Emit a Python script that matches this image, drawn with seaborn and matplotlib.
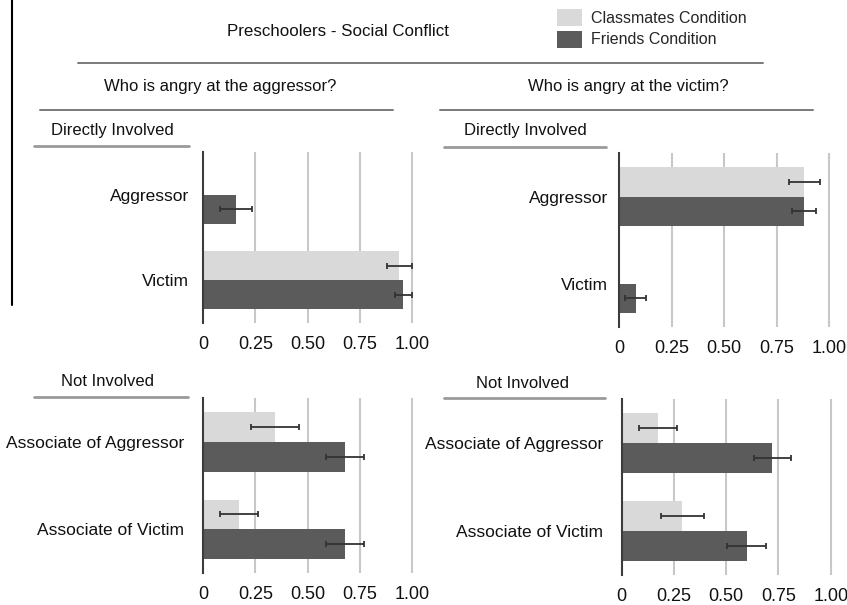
import matplotlib
matplotlib.use("Agg")
import matplotlib.pyplot as plt
from matplotlib.lines import Line2D
from matplotlib.patches import Patch
import numpy as np
import pandas as pd
import seaborn as sns

sns.set_style("white")
plt.rcParams["font.family"] = ["Liberation Sans", "DejaVu Sans"]

# ---- data -------------------------------------------------------------
conditions = ["Classmates Condition", "Friends Condition"]
colors = ["#d9d9d9", "#5b5b5b"]

direct_roles = ["Aggressor", "Victim"]
other_roles = ["Associate of Aggressor", "Associate of Victim"]

# proportion of children judged angry, and standard error bars
angry_at_aggressor_direct = {"Classmates Condition": [0.0, 0.94],
                             "Friends Condition": [0.158, 0.958]}
angry_at_aggressor_direct_err = {"Classmates Condition": [np.nan, 0.058],
                                 "Friends Condition": [0.076, 0.040]}

angry_at_victim_direct = {"Classmates Condition": [0.881, 0.0],
                          "Friends Condition": [0.881, 0.079]}
angry_at_victim_direct_err = {"Classmates Condition": [0.075, np.nan],
                              "Friends Condition": [0.058, 0.050]}

angry_at_aggressor_other = {"Classmates Condition": [0.346, 0.172],
                            "Friends Condition": [0.679, 0.679]}
angry_at_aggressor_other_err = {"Classmates Condition": [0.115, 0.092],
                                "Friends Condition": [0.090, 0.090]}

angry_at_victim_other = {"Classmates Condition": [0.174, 0.290],
                         "Friends Condition": [0.721, 0.598]}
angry_at_victim_other_err = {"Classmates Condition": [0.089, 0.104],
                             "Friends Condition": [0.089, 0.093]}

tick_values = [0, 0.25, 0.50, 0.75, 1.00]
tick_labels = ["0", "0.25", "0.50", "0.75", "1.00"]

W, H = 847, 605
fig = plt.figure(figsize=(W / 100, H / 100), dpi=100)


def frame(df_vals, df_err, roles):
    rows = []
    for cond in conditions:
        for role, v, e in zip(roles, df_vals[cond], df_err[cond]):
            rows.append({"role": role, "condition": cond, "value": v, "err": e})
    return pd.DataFrame(rows)


def panel(px_left, px_top, px_bottom, px_per_unit, vals, errs, roles, label_pad):
    xmax = 1.012
    rect = [px_left / W, 1 - px_bottom / H,
            px_per_unit * xmax / W, (px_bottom - px_top) / H]
    ax = fig.add_axes(rect)
    df = frame(vals, errs, roles)
    sns.barplot(data=df, x="value", y="role", hue="condition", order=roles,
                hue_order=conditions, palette=colors, orient="h",
                errorbar=None, width=0.68, linewidth=0, legend=False,
                ax=ax, zorder=3)
    # error bars centred on each bar, read from the drawn patches
    for cond, container in zip(conditions, ax.containers):
        sub = df[df["condition"] == cond].set_index("role").loc[roles]
        for bar, (_, row) in zip(container, sub.iterrows()):
            if np.isnan(row["err"]):
                continue
            yc = bar.get_y() + bar.get_height() / 2
            ax.errorbar(row["value"], yc, xerr=row["err"], fmt="none",
                        ecolor="#333333", elinewidth=1.3, capsize=2.2,
                        capthick=1.3, zorder=4)
    ax.set_xlim(0, xmax)
    ax.set_ylim(1.5, -0.5)
    ax.set_xticks(tick_values)
    ax.set_xticklabels(tick_labels)
    ax.set_xlabel("")
    ax.set_ylabel("")
    for x in tick_values[1:]:
        ax.axvline(x, color="#c8c8c8", lw=1.5, zorder=1)
    for s in ["top", "right", "bottom"]:
        ax.spines[s].set_visible(False)
    ax.spines["left"].set_color("#3c3c3c")
    ax.spines["left"].set_linewidth(1.5)
    ax.spines["left"].set_zorder(5)
    ax.tick_params(axis="x", length=0, pad=9.5, labelsize=13, labelcolor="#111111")
    ax.tick_params(axis="y", length=0, pad=label_pad, labelsize=12.5,
                   labelcolor="#111111")
    return ax


panel(203, 152, 323, 209, angry_at_aggressor_direct,
      angry_at_aggressor_direct_err, direct_roles, 10)
panel(619, 153, 327, 210.3, angry_at_victim_direct,
      angry_at_victim_direct_err, direct_roles, 8)
panel(203, 398, 573, 209, angry_at_aggressor_other,
      angry_at_aggressor_other_err, other_roles, 13.5)
panel(621.7, 399, 575, 209, angry_at_victim_other,
      angry_at_victim_other_err, other_roles, 13.5)


def hline(x0, x1, y, color="#7a7a7a", lw=1.4):
    fig.add_artist(Line2D([x0 / W, x1 / W], [1 - y / H, 1 - y / H],
                          color=color, lw=lw))


def label(x, y, s, size):
    fig.text(x / W, 1 - y / H, s, ha="center", va="center",
             fontsize=size, color="#111111")


label(338, 31, "Preschoolers - Social Conflict", 12.2)
hline(78, 763, 63)
label(220, 87, "Who is angry at the aggressor?", 12)
label(628, 87, "Who is angry at the victim?", 12)
hline(40, 393, 110)
hline(440, 813, 110)
label(112, 131, "Directly Involved", 12)
label(525, 131, "Directly Involved", 12)
hline(34, 189, 146, color="#9a9a9a", lw=2)
hline(444, 606, 147, color="#9a9a9a", lw=2)
label(107, 382, "Not Involved", 12)
label(522, 383, "Not Involved", 12)
hline(34, 188, 397, color="#9a9a9a", lw=2)
hline(444, 605, 398, color="#9a9a9a", lw=2)

# thin black rule down the left margin
fig.add_artist(Line2D([11.5 / W, 11.5 / W], [1.0, 1 - 305 / H],
                      color="black", lw=1.5))

handles = [Patch(facecolor=c, edgecolor="none") for c in colors]
fig.legend(handles, conditions, loc="upper left",
           bbox_to_anchor=(557 / W, 1 - 9 / H), frameon=False,
           fontsize=11.5, handlelength=1.55, handleheight=1.25,
           handletextpad=0.55, labelspacing=0.3, borderpad=0,
           borderaxespad=0)

fig.savefig("out.png", dpi=100)
